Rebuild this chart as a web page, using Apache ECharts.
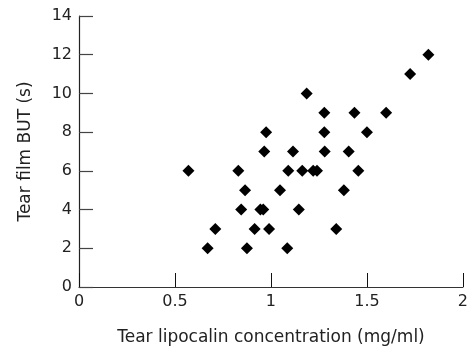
<!DOCTYPE html>
<html>
<head>
<meta charset="utf-8">
<script src="https://cdn.jsdelivr.net/npm/echarts@6/dist/echarts.min.js"></script>
<style>
  html, body { margin: 0; padding: 0; background: #fff; }
  #chart { width: 471px; height: 351px; }
</style>
</head>
<body>
<div id="chart"></div>
<script>
// tear lipocalin (mg/ml) vs tear film BUT (s)
const lipocalin = [0.57, 0.67, 0.71, 0.83, 0.845, 0.865, 0.875, 0.915, 0.945, 0.96, 0.965, 0.975, 0.99,
  1.047, 1.085, 1.09, 1.115, 1.145, 1.163, 1.186, 1.22, 1.24, 1.278, 1.278, 1.28, 1.34, 1.38, 1.405,
  1.435, 1.455, 1.5, 1.6, 1.725, 1.82];
const but = [6, 2, 3, 6, 4, 5, 2, 3, 4, 4, 7, 8, 3,
  5, 2, 6, 7, 4, 6, 10, 6, 6, 9, 8, 7, 3, 5, 7,
  9, 6, 8, 9, 11, 12];

const xTicks = [0, 0.5, 1, 1.5, 2];
const yTicks = [0, 2, 4, 6, 8, 10, 12, 14];

const chart = echarts.init(document.getElementById('chart'), null, { renderer: 'canvas' });
const font = 'DejaVu Sans';
const textColor = '#222';

chart.setOption({
  animation: false,
  backgroundColor: '#fff',
  grid: { left: 79, right: 8, top: 16, bottom: 59, containLabel: false },
  xAxis: {
    type: 'value',
    min: xTicks[0],
    max: xTicks[xTicks.length - 1],
    interval: 0.5,
    name: 'Tear lipocalin concentration (mg/ml)',
    nameLocation: 'middle',
    nameGap: 42,
    nameTextStyle: { color: textColor, fontFamily: font, fontSize: 17 },
    axisLine: { lineStyle: { color: '#333', width: 1.2 } },
    axisTick: { show: true, inside: true, length: 14, lineStyle: { color: '#111', width: 1 } },
    axisLabel: {
      color: textColor, fontFamily: font, fontSize: 16, margin: 7,
      formatter: (v) => (xTicks.includes(v) ? String(v) : '')
    },
    splitLine: { show: false }
  },
  yAxis: {
    type: 'value',
    min: yTicks[0],
    max: yTicks[yTicks.length - 1],
    interval: 2,
    name: 'Tear film BUT (s)',
    nameLocation: 'middle',
    nameGap: 45,
    nameTextStyle: { color: textColor, fontFamily: font, fontSize: 17 },
    axisLine: { show: true, lineStyle: { color: '#222', width: 1.2 } },
    axisTick: { show: true, inside: true, length: 14, lineStyle: { color: '#444', width: 1.2 } },
    axisLabel: { color: textColor, fontFamily: font, fontSize: 16, margin: 7 },
    splitLine: { show: false }
  },
  series: [{
    type: 'scatter',
    symbol: 'diamond',
    symbolSize: 12,
    itemStyle: { color: '#000', opacity: 1 },
    data: lipocalin.map((x, i) => [x, but[i]])
  }]
});
</script>
</body>
</html>
